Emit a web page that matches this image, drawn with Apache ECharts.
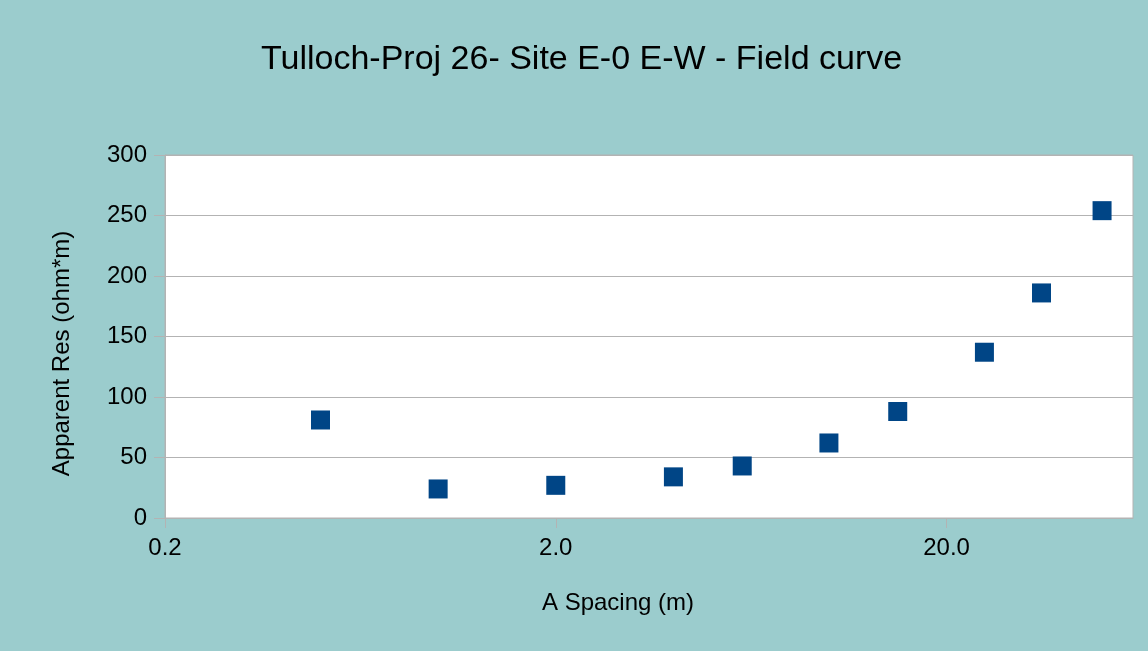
<!DOCTYPE html>
<html>
<head>
<meta charset="utf-8">
<script src="https://cdn.jsdelivr.net/npm/echarts@6/dist/echarts.min.js"></script>
<style>
html,body{margin:0;padding:0;background:#9bcccd;}
#chart{width:1148px;height:651px;}
</style>
</head>
<body>
<div id="chart"></div>
<script>
const aSpacing = [0.5, 1, 2, 4, 6, 10, 15, 25, 35, 50];
const apparentRes = [81, 24, 27, 34, 43, 62, 88, 137, 186, 254];
const xTickLabels = [0.2, 2, 20];
const titleText = 'Tulloch-Proj 26- Site E-0 E-W - Field curve';

const chart = echarts.init(document.getElementById('chart'));
const FONT = '"Liberation Sans", Arial, sans-serif';
chart.setOption({
  backgroundColor: '#9bcccd',
  animation: false,
  title: {
    text: titleText,
    left: 256,
    top: 38,
    textStyle: {fontFamily: FONT, fontSize: 34, fontWeight: 'normal', color: '#000'}
  },
  grid: {
    left: 165, top: 155, right: 15, bottom: 133,
    show: true, backgroundColor: '#ffffff', borderColor: '#b3b3b3', borderWidth: 1
  },
  xAxis: {
    type: 'log', logBase: 10, min: 0.2, max: 60,
    name: 'A Spacing (m)', nameLocation: 'middle', nameGap: 73,
    nameTextStyle: {fontFamily: FONT, fontSize: 24, color: '#000', padding: [0, 62, 0, 0]},
    axisLine: {lineStyle: {color: '#b3b3b3'}},
    axisTick: {show: true, length: 10, lineStyle: {color: '#b3b3b3'}, customValues: xTickLabels},
    axisLabel: {customValues: xTickLabels, formatter: v => Number(v).toFixed(1), fontFamily: FONT, fontSize: 24, color: '#000', margin: 18},
    splitLine: {show: false},
    minorTick: {show: false}
  },
  yAxis: {
    type: 'value', min: 0, max: 300, interval: 50,
    name: 'Apparent Res (ohm*m)', nameLocation: 'middle', nameGap: 91,
    nameTextStyle: {fontFamily: FONT, fontSize: 24, color: '#000', padding: [0, 34, 0, 0]},
    axisLine: {show: true, lineStyle: {color: '#b3b3b3'}},
    axisTick: {show: true, length: 11, lineStyle: {color: '#b3b3b3'}},
    axisLabel: {fontFamily: FONT, fontSize: 24, color: '#000', margin: 18},
    splitLine: {show: true, lineStyle: {color: '#b3b3b3'}}
  },
  series: [{
    type: 'scatter',
    symbol: 'rect',
    symbolSize: 19,
    itemStyle: {color: '#004586', opacity: 1},
    data: aSpacing.map((x, i) => [x, apparentRes[i]])
  }]
});
</script>
</body>
</html>
